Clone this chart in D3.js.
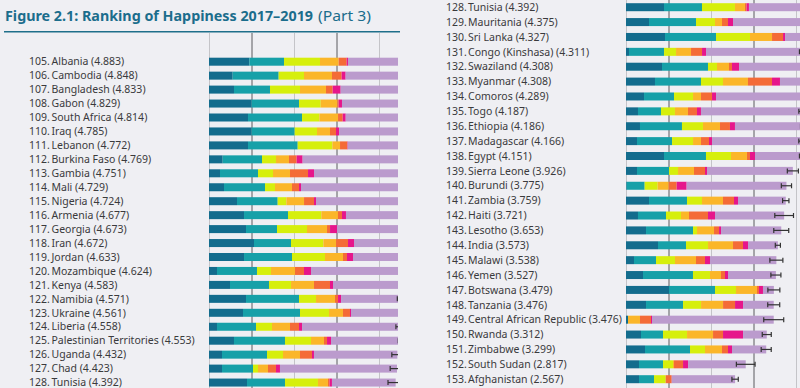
<!DOCTYPE html>
<html>
<head>
<meta charset="utf-8">
<script src="https://cdnjs.cloudflare.com/ajax/libs/d3/7.8.5/d3.min.js"></script>
<style>
    body { margin: 0; background: #efeff3; }
    svg { display: block; }
</style>
</head>
<body>
<div id="visual"></div>
<script>

var ranks = [105, 106, 107, 108, 109, 110, 111, 112, 113, 114, 115, 116, 117, 118, 119, 120, 121, 122, 123, 124, 125, 126, 127, 128,
    129, 130, 131, 132, 133, 134, 135, 136, 137, 138, 139, 140, 141, 142, 143, 144, 145, 146, 147, 148, 149, 150, 151, 152, 153];

var countries = ["Albania", "Cambodia", "Bangladesh", "Gabon", "South Africa", "Iraq", "Lebanon", "Burkina Faso", "Gambia", "Mali",
    "Nigeria", "Armenia", "Georgia", "Iran", "Jordan", "Mozambique", "Kenya", "Namibia", "Ukraine", "Liberia",
    "Palestinian Territories", "Uganda", "Chad", "Tunisia", "Mauritania", "Sri Lanka", "Congo (Kinshasa)", "Swaziland", "Myanmar",
    "Comoros", "Togo", "Ethiopia", "Madagascar", "Egypt", "Sierra Leone", "Burundi", "Zambia", "Haiti", "Lesotho", "India",
    "Malawi", "Yemen", "Botswana", "Tanzania", "Central African Republic", "Rwanda", "Zimbabwe", "South Sudan", "Afghanistan"];

var scores = [4.883, 4.848, 4.833, 4.829, 4.814, 4.785, 4.772, 4.769, 4.751, 4.729, 4.724, 4.677, 4.673, 4.672, 4.633, 4.624,
    4.583, 4.571, 4.561, 4.558, 4.553, 4.432, 4.423, 4.392, 4.375, 4.327, 4.311, 4.308, 4.308, 4.289, 4.187, 4.186, 4.166,
    4.151, 3.926, 3.775, 3.759, 3.721, 3.653, 3.573, 3.538, 3.527, 3.479, 3.476, 3.476, 3.312, 3.299, 2.817, 2.567];

// explained by: GDP per capita
var gdp = [0.949, 0.557, 0.588, 1.004, 0.918, 1.004, 0.918, 0.322, 0.259, 0.353, 0.659, 0.824, 0.871, 1.059, 0.824, 0.188,
    0.494, 0.871, 0.800, 0.188, 0.588, 0.306, 0.306, 0.894, 0.541, 0.918, 0.071, 0.847, 0.682, 0.424, 0.282, 0.329, 0.259,
    0.894, 0.259, 0.015, 0.541, 0.282, 0.471, 0.753, 0.188, 0.400, 1.012, 0.471, 0.047, 0.353, 0.447, 0.306, 0.306];
// social support
var social = [0.816, 1.082, 0.847, 1.114, 1.271, 1.012, 1.169, 0.925, 0.894, 0.965, 0.957, 1.035, 0.729, 0.871, 1.129, 0.941,
    0.918, 1.247, 1.341, 0.918, 1.200, 1.059, 0.729, 0.894, 1.106, 1.200, 0.824, 1.082, 1.082, 0.706, 0.541, 0.988, 0.824,
    0.988, 0.753, 0.424, 0.894, 0.659, 1.106, 0.659, 0.518, 1.176, 1.082, 0.871, 0, 0.518, 1.059, 0.565, 0.353];
// healthy life expectancy
var health = [0.847, 0.596, 0.706, 0.510, 0.408, 0.525, 0.816, 0.329, 0.353, 0.235, 0.204, 0.784, 0.706, 0.761, 0.776, 0.329,
    0.518, 0.400, 0.682, 0.376, 0.612, 0.376, 0.118, 0.776, 0.447, 0.800, 0.282, 0.212, 0.518, 0.447, 0.329, 0.494, 0.494,
    0.588, 0.212, 0.306, 0.353, 0.353, 0.094, 0.518, 0.447, 0.400, 0.494, 0.424, 0, 0.565, 0.353, 0.235, 0.275];
// freedom to make life choices
var freedom = [0.439, 0.659, 0.612, 0.392, 0.439, 0.306, 0.180, 0.306, 0.400, 0.400, 0.416, 0.392, 0.471, 0.298, 0.424, 0.565,
    0.541, 0.447, 0.329, 0.424, 0.306, 0.400, 0.235, 0.235, 0.165, 0.518, 0.353, 0.282, 0.588, 0.188, 0.306, 0.400, 0.188,
    0.376, 0.376, 0.259, 0.494, 0.188, 0.400, 0.588, 0.494, 0.259, 0.494, 0.518, 0.282, 0.612, 0.400, 0.024, 0];
// generosity
var generosity = [0.188, 0.227, 0.157, 0.031, 0.110, 0.141, 0.173, 0.180, 0.424, 0.165, 0.235, 0.094, 0.071, 0.282, 0.094, 0.212,
    0.376, 0.071, 0.165, 0.212, 0.071, 0.282, 0.188, 0.039, 0.141, 0.259, 0.259, 0.071, 0.565, 0.259, 0.212, 0.235, 0.188,
    0.071, 0.259, 0.188, 0.259, 0.447, 0.118, 0.235, 0.212, 0.094, 0.047, 0.282, 0.259, 0.235, 0.141, 0.212, 0.141];
// perceptions of corruption
var corruption = [0.031, 0.094, 0.188, 0.078, 0.071, 0.071, 0.010, 0.141, 0.141, 0.047, 0.047, 0.094, 0.165, 0.141, 0.141, 0.165,
    0.071, 0.071, 0.024, 0.071, 0.094, 0.047, 0.094, 0.055, 0.118, 0.047, 0.094, 0.165, 0.188, 0.094, 0.094, 0.118, 0.071,
    0.118, 0.047, 0.235, 0.094, 0.165, 0.047, 0.118, 0.118, 0.071, 0.094, 0.188, 0.024, 0.471, 0.094, 0.118, 0.002];
// dystopia (1.88) + residual
var dystopia = [1.613, 1.633, 1.735, 1.700, 1.597, 1.726, 1.506, 2.566, 2.280, 2.564, 2.206, 1.454, 1.660, 1.260, 1.245, 2.224,
    1.665, 1.464, 1.220, 2.369, 1.682, 1.962, 2.753, 1.499, 1.857, 0.585, 2.428, 1.649, 0.685, 2.171, 2.423, 1.622, 2.142,
    1.116, 2.020, 2.348, 1.124, 1.627, 1.417, 0.702, 1.561, 1.127, 0.256, 0.722, 2.864, 0.558, 0.805, 1.357, 1.490];
// 95% confidence half width
var errors = [0.09, 0.10, 0.07, 0.10, 0.10, 0.10, 0.10, 0.12, 0.14, 0.12, 0.08, 0.10, 0.09, 0.09, 0.11, 0.14,
    0.10, 0.14, 0.08, 0.16, 0.10, 0.13, 0.16, 0.18, 0.12, 0.07, 0.23, 0.14, 0.10, 0.14, 0.12, 0.08, 0.10,
    0.07, 0.13, 0.12, 0.075, 0.22, 0.176, 0.06, 0.153, 0.118, 0.141, 0.141, 0.235, 0.106, 0.118, 0.22, 0.075];

var factors = [gdp, social, health, freedom, generosity, corruption, dystopia];
var colors = ["#136c8d", "#16a0a8", "#d6ef0c", "#fbb629", "#f46b37", "#e6168b", "#bb9bcd"];
var gridValues = [0, 1, 2, 3, 4];

function chart() {

    var w = 800, h = 388;

    var svg = d3.select("#visual").append("svg").attr("width", w).attr("height", h);

    svg.append("rect").attr("width", w).attr("height", h).attr("fill", "#efeff3");

    // Title (wide geometric face in the original, so stretch to its width)
    svg.append("text")
        .attr("x", 5)
        .attr("y", 20.5)
        .attr("font-family", "'Noto Sans', sans-serif")
        .attr("font-size", "14.5px")
        .attr("font-weight", "bold")
        .attr("fill", "#1b6d8c")
        .attr("textLength", 308)
        .attr("lengthAdjust", "spacingAndGlyphs")
        .text("Figure 2.1: Ranking of Happiness 2017\u20132019");

    svg.append("text")
        .attr("x", 318)
        .attr("y", 20.5)
        .attr("font-family", "'Noto Sans', sans-serif")
        .attr("font-size", "14.5px")
        .attr("fill", "#1b6d8c")
        .attr("textLength", 53)
        .attr("lengthAdjust", "spacingAndGlyphs")
        .text("(Part 3)");

    svg.append("line")
        .attr("x1", 4).attr("x2", 400)
        .attr("y1", 31.7).attr("y2", 31.7)
        .attr("stroke", "#1f6f8a")
        .attr("stroke-width", 1.5);

    // left panel: ranks 105-128, right panel: ranks 128-153
    panel(svg, d3.range(0, 24), {x0: 209, xMax: 398, top: 33, y0: 61.7, step: 13.95, rankX: 29, nameX: 51.5, clip: "clipL"});
    panel(svg, d3.range(23, 49), {x0: 626, xMax: 800, top: 0, y0: 7.2, step: 14.88, rankX: 446, nameX: 468, clip: "clipR"});
}

function panel(svg, idx, p) {

    var xScale = d3.scaleLinear()
        .domain([0, 1])
        .range([p.x0, p.x0 + 42.5]);

    var yScale = d3.scaleLinear()
        .domain([0, 1])
        .range([p.y0, p.y0 + p.step]);

    svg.append("clipPath").attr("id", p.clip)
        .append("rect")
        .attr("x", p.x0 - 2).attr("y", p.top)
        .attr("width", p.xMax - p.x0 + 2).attr("height", 388 - p.top);

    var g = svg.append("g").attr("clip-path", "url(#" + p.clip + ")");

    // Gridlines
    g.selectAll("line.grid")
        .data(gridValues)
        .enter()
        .append("line")
        .attr("class", "grid")
        .attr("x1", function (d) { return xScale(d) + 0.5; })
        .attr("x2", function (d) { return xScale(d) + 0.5; })
        .attr("y1", p.top)
        .attr("y2", 388)
        .attr("stroke", function (d) { return d % 2 == 1 ? "#5a5a5e" : "#c4c4c8"; })
        .attr("stroke-width", 1);

    var barH = 8;

    idx.forEach(function (k, i) {
        var start = 0;
        var segs = [];
        for (var f = 0; f < factors.length; f++) {
            segs.push({start: start, value: factors[f][k], color: colors[f]});
            start += factors[f][k];
        }

        g.selectAll("rect.r" + k)
            .data(segs)
            .enter()
            .append("rect")
            .attr("x", function (d) { return xScale(d.start); })
            .attr("y", yScale(i) - barH / 2)
            .attr("width", function (d) { return xScale(d.start + d.value) - xScale(d.start); })
            .attr("height", barH)
            .style("fill", function (d) { return d.color; });

        // error whisker
        var lo = xScale(scores[k] - errors[k]), hi = xScale(scores[k] + errors[k]);
        var cy = yScale(i);
        g.append("line").attr("x1", lo).attr("x2", hi).attr("y1", cy).attr("y2", cy)
            .attr("stroke", "#333").attr("stroke-width", 1.2);
        g.append("line").attr("x1", lo).attr("x2", lo).attr("y1", cy - 2.5).attr("y2", cy + 2.5)
            .attr("stroke", "#333").attr("stroke-width", 1.2);
        g.append("line").attr("x1", hi).attr("x2", hi).attr("y1", cy - 2.5).attr("y2", cy + 2.5)
            .attr("stroke", "#333").attr("stroke-width", 1.2);
    });

    // Labels
    var labels = svg.append("g")
        .attr("font-family", "'Noto Sans', sans-serif")
        .attr("font-size", "10.5px")
        .attr("fill", "#3a3a3c");

    labels.selectAll("text.rank")
        .data(idx)
        .enter()
        .append("text")
        .attr("class", "rank")
        .attr("x", p.rankX)
        .attr("y", function (d, i) { return yScale(i) + 3.7; })
        .text(function (d) { return ranks[d] + "."; });

    labels.selectAll("text.name")
        .data(idx)
        .enter()
        .append("text")
        .attr("class", "name")
        .attr("x", p.nameX)
        .attr("y", function (d, i) { return yScale(i) + 3.7; })
        .text(function (d) { return countries[d] + " (" + d3.format(".3f")(scores[d]) + ")"; });
}

function init() {
    chart();
}

window.onload = init;
</script>
</body>
</html>
